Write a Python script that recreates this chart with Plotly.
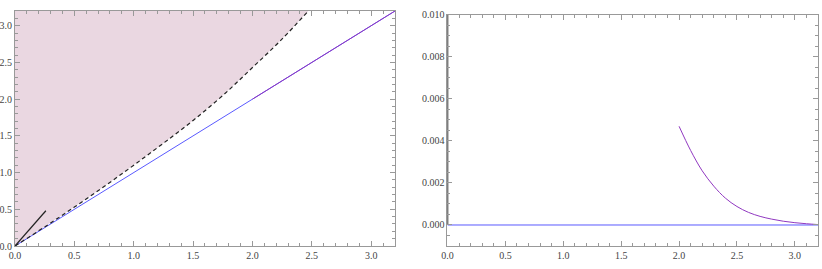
import plotly.graph_objects as go

# ---- data (left panel) ----
bound_x = [0.0, 0.25, 0.5, 0.75, 1.0, 1.25, 1.5, 1.75, 2.0, 2.25, 2.47]
bound_y = [0.0, 0.26, 0.53, 0.81, 1.10, 1.40, 1.71, 2.05, 2.43, 2.82, 3.2]
diag_x = [0.0, 3.2]
diag_y = [0.0, 3.2]
upper_diag_x = [2.0, 3.2]
upper_diag_y = [2.0, 3.2]
short_x = [0.0, 0.26]
short_y = [0.0, 0.48]
left_range = [0.0, 3.2]

# ---- data (right panel) ----
vert_x = [0.0, 0.0]
vert_y = [0.0, 0.0105]
zero_x = [0.0, 3.2]
zero_y = [0.0, 0.0]
decay_x = [2.0, 2.1, 2.2, 2.3, 2.4, 2.5, 2.6, 2.7, 2.8, 2.9, 3.0, 3.1, 3.2]
decay_y = [0.00470, 0.00355, 0.00258, 0.00185, 0.00128, 0.00088, 0.00060,
           0.00041, 0.00028, 0.00018, 0.00011, 0.00006, 0.00002]
right_xrange = [0.0, 3.2]
right_yrange = [-0.001, 0.010]

BLUE = "#5a5aff"
PURPLE = "#9038c0"
PINK = "#ead7e1"
SERIF = "serif"

fig = go.Figure()

poly_x = bound_x + [left_range[0], left_range[0]]
poly_y = bound_y + [left_range[1], 0.0]
fig.add_trace(go.Scatter(x=poly_x, y=poly_y, fill="toself", fillcolor=PINK,
                         line=dict(width=0), mode="lines", hoverinfo="skip",
                         xaxis="x", yaxis="y"))
fig.add_trace(go.Scatter(x=diag_x, y=diag_y, mode="lines",
                         line=dict(color=BLUE, width=1), xaxis="x", yaxis="y"))
fig.add_trace(go.Scatter(x=upper_diag_x, y=upper_diag_y, mode="lines",
                         line=dict(color=PURPLE, width=1), xaxis="x", yaxis="y"))
fig.add_trace(go.Scatter(x=bound_x, y=bound_y, mode="lines",
                         line=dict(color="#222222", width=1.2, dash="4px,3px", shape="spline"),
                         xaxis="x", yaxis="y"))
fig.add_trace(go.Scatter(x=short_x, y=short_y, mode="lines",
                         line=dict(color="#222222", width=1.2), xaxis="x", yaxis="y"))

fig.add_trace(go.Scatter(x=zero_x, y=zero_y, mode="lines",
                         line=dict(color=BLUE, width=1), xaxis="x2", yaxis="y2"))
fig.add_trace(go.Scatter(x=decay_x, y=decay_y, mode="lines",
                         line=dict(color=PURPLE, width=1, shape="spline"),
                         xaxis="x2", yaxis="y2"))
fig.add_trace(go.Scatter(x=vert_x, y=vert_y, mode="lines",
                         line=dict(color="black", width=1.5), xaxis="x2", yaxis="y2"))

tickfont = dict(family=SERIF, size=10, color="#444444")
common = dict(showgrid=False, zeroline=False, showline=True, linecolor="#999999",
              linewidth=1, mirror="allticks", ticks="inside", ticklen=5,
              tickcolor="#999999", tickfont=tickfont, automargin=False)
minor_x = dict(dtick=0.1, ticks="inside", ticklen=3, tickcolor="#999999")

fig.update_layout(
    width=822, height=269,
    margin=dict(l=15, r=4, t=11, b=23),
    paper_bgcolor="white", plot_bgcolor="white",
    showlegend=False,
    font=dict(family=SERIF),
    xaxis=dict(domain=[0.0, 0.4732], range=left_range, dtick=0.5, tickformat=".1f",
               minor=minor_x, anchor="y", **common),
    yaxis=dict(domain=[0.0, 1.0], range=left_range, dtick=0.5, tickformat=".1f",
               minor=minor_x, anchor="x", **common),
    xaxis2=dict(domain=[0.5386, 1.0], range=right_xrange, dtick=0.5, tickformat=".1f",
                minor=minor_x, anchor="y2", **common),
    yaxis2=dict(domain=[0.0, 0.983], range=right_yrange, dtick=0.002, tick0=0,
                tickformat=".3f",
                minor=dict(dtick=0.0005, ticks="inside", ticklen=3, tickcolor="#999999"),
                anchor="x2", **common),
)

fig.write_html("out.html", config={"displayModeBar": False})

# remove the default page margin so the figure sits at the window origin
with open("out.html", "r", encoding="utf-8") as f:
    html = f.read()
html = html.replace("<head>", "<head><style>html,body{margin:0;padding:0;overflow:hidden;}</style>", 1)
with open("out.html", "w", encoding="utf-8") as f:
    f.write(html)
